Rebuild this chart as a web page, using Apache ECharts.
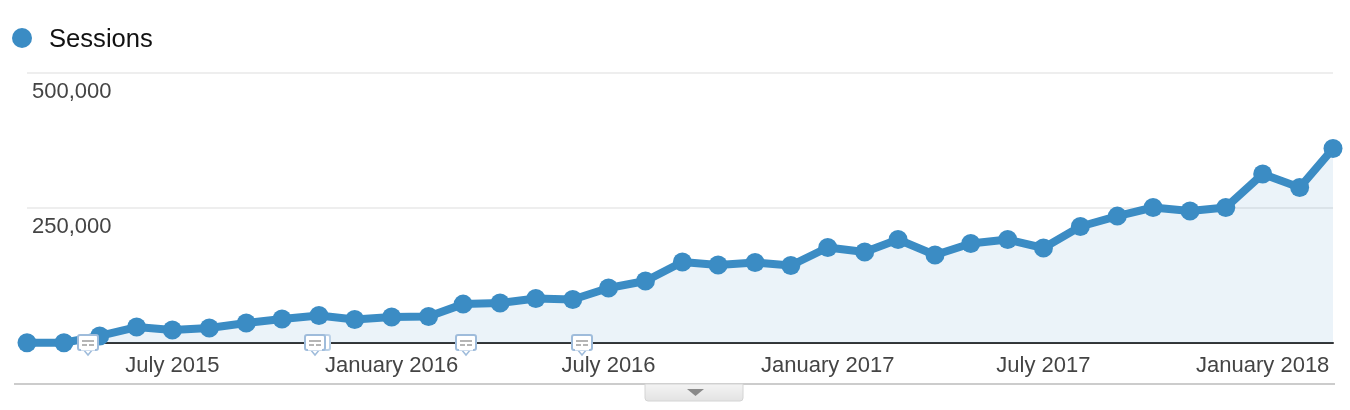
<!DOCTYPE html>
<html>
<head>
<meta charset="utf-8">
<style>
html,body{margin:0;padding:0;background:#fff;}
#main{width:1350px;height:410px;}
</style>
<script src="https://cdn.jsdelivr.net/npm/echarts@6/dist/echarts.min.js"></script>
</head>
<body>
<div id="main"></div>
<script>
var seriesName = 'Sessions';
var months = [
	'2015-03-01','2015-04-01','2015-05-01','2015-06-01','2015-07-01','2015-08-01','2015-09-01','2015-10-01','2015-11-01','2015-12-01',
	'2016-01-01','2016-02-01','2016-03-01','2016-04-01','2016-05-01','2016-06-01','2016-07-01','2016-08-01','2016-09-01','2016-10-01','2016-11-01','2016-12-01',
	'2017-01-01','2017-02-01','2017-03-01','2017-04-01','2017-05-01','2017-06-01','2017-07-01','2017-08-01','2017-09-01','2017-10-01','2017-11-01','2017-12-01',
	'2018-01-01','2018-02-01','2018-03-01'
];
var sessions = [
	300,500,13000,29600,24000,27800,37000,44400,50900,43500,
	48100,49000,72000,74000,82300,80500,101800,114800,150000,144400,149000,143500,
	176800,168500,191600,163000,184300,191600,175900,215700,235000,250900,244400,
	250900,312900,287900,360100
];
var tickDates = ['2015-07-01','2016-01-01','2016-07-01','2017-01-01','2017-07-01','2018-01-01'];
var tickNames = ['July 2015','January 2016','July 2016','January 2017','July 2017','January 2018'];
var valueTicks = [250000,500000];

// annotation bubbles under the line, left edge of each one
var noteLefts = [78,305,456,572];

function toTime(s){
	var p = s.split('-');
	return Date.UTC(+p[0],+p[1]-1,+p[2]);
}

function noteIcon(x, doubled){
	var parts = [];
	var border = '#9fbcdb';
	if(doubled){
		parts.push({type:'rect',z:50,shape:{x:x+5,y:335,width:20,height:15,r:2},style:{fill:'#fff',stroke:'#bcd2e8',lineWidth:2}});
	}
	parts.push({type:'polygon',z:51,shape:{points:[[x+5,349],[x+15,349],[x+10,355]]},style:{fill:'#fff',stroke:border,lineWidth:1.5}});
	parts.push({type:'rect',z:52,shape:{x:x,y:335,width:20,height:15,r:2},style:{fill:'#fff',stroke:border,lineWidth:2}});
	parts.push({type:'rect',z:53,shape:{x:x+3,y:349,width:14,height:1.5},style:{fill:'#fff'}});
	parts.push({type:'rect',z:53,shape:{x:x+4,y:340,width:12,height:2},style:{fill:'#b5b5b5'}});
	parts.push({type:'rect',z:53,shape:{x:x+4,y:344,width:5,height:2},style:{fill:'#b5b5b5'}});
	parts.push({type:'rect',z:53,shape:{x:x+11,y:344,width:5,height:2},style:{fill:'#b5b5b5'}});
	return {type:'group',children:parts};
}

var furniture = [
	{type:'rect',z:1,shape:{x:14,y:383,width:1321,height:2},style:{fill:'#cccccc'}},
	{type:'rect',z:2,shape:{x:645,y:384,width:98,height:17,r:[0,0,3,3]},style:{
		fill:new echarts.graphic.LinearGradient(0,0,0,1,[{offset:0,color:'#f4f4f4'},{offset:1,color:'#e2e2e2'}]),
		stroke:'#d4d4d4',lineWidth:1}},
	{type:'polygon',z:3,shape:{points:[[687,389],[704,389],[695.5,396]]},style:{fill:'#8a8a8a'}}
];
noteLefts.forEach(function(x,i){
	furniture.push(noteIcon(x,i==1));
});

var points = months.map(function(m,i){ return [toTime(m),sessions[i]]; });
var tickTimes = tickDates.map(toTime);

var myChart = echarts.init(document.getElementById('main'),null,{renderer:'canvas'});

var option = {
	animation:false,
	backgroundColor:'#fff',
	textStyle:{fontFamily:'"Liberation Sans",Arial,sans-serif'},
	legend:{
		left:7,
		top:22,
		icon:'circle',
		itemWidth:20,
		itemHeight:20,
		data:[seriesName],
		formatter:'{a|{name}}',
		textStyle:{
			rich:{a:{fontSize:25.6,color:'#111',padding:[4,0,0,12],fontFamily:'"Liberation Sans",Arial,sans-serif'}}
		}
	},
	grid:{left:27,right:17,top:73,bottom:67,containLabel:false},
	xAxis:{
		type:'value',
		min:toTime(months[0]),
		max:toTime(months[months.length-1]),
		axisLine:{lineStyle:{color:'#333',width:2}},
		axisTick:{show:false},
		splitLine:{show:false},
		axisLabel:{
			color:'#444',
			fontSize:22,
			margin:12,
			hideOverlap:false,
			customValues:tickTimes,
			formatter:function(v){
				var k = tickTimes.indexOf(+v);
				return k>=0 ? tickNames[k] : '';
			}
		}
	},
	yAxis:{
		type:'value',
		min:0,
		max:500000,
		interval:250000,
		axisLine:{show:false},
		axisTick:{show:false},
		splitLine:{lineStyle:{color:'#eeeeee',width:2}},
		axisLabel:{
			inside:true,
			margin:5,
			color:'#444',
			fontSize:22,
			verticalAlign:'top',
			padding:[8,0,0,0],
			formatter:function(v){
				return valueTicks.indexOf(v)>=0 ? v.toLocaleString('en-US') : '';
			}
		}
	},
	series:[{
		name:seriesName,
		type:'line',
		data:points,
		clip:false,
		symbol:'circle',
		symbolSize:19,
		showSymbol:true,
		showAllSymbol:true,
		itemStyle:{color:'#3b8cc4'},
		lineStyle:{color:'#3b8cc4',width:8},
		areaStyle:{color:'rgb(58,140,196)',opacity:0.1},
		z:5
	}],
	graphic:furniture
};
myChart.setOption(option);
</script>
</body>
</html>
